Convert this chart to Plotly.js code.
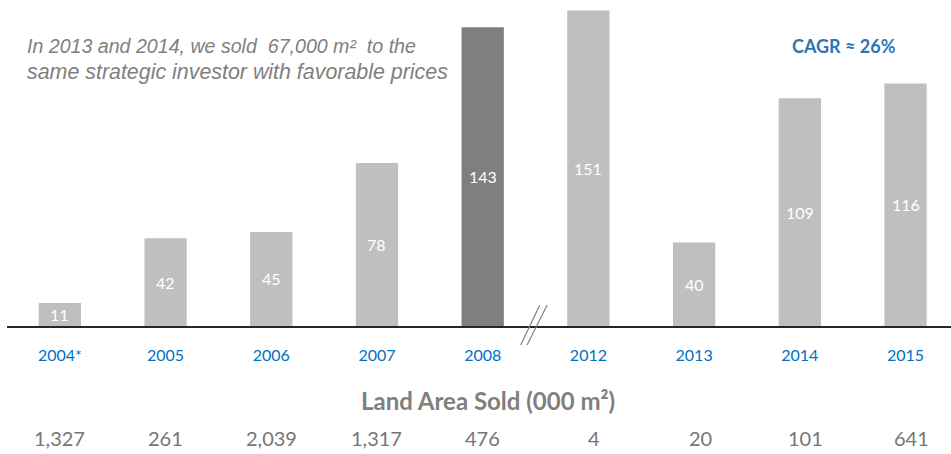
<!DOCTYPE html>
<html>
<head>
<meta charset="utf-8">
<script src="https://cdn.plot.ly/plotly-3.0.1.min.js"></script>
<style>html,body{margin:0;padding:0;background:#fff;}#chart{width:951px;height:454px;}</style>
</head>
<body>
<div id="chart"></div>
<script>
const categories = ["2004*", "2005", "2006", "2007", "2008", "2012", "2013", "2014", "2015"];
const landValues = [11, 42, 45, 78, 143, 151, 40, 109, 116];
const areaSold = ["1,327", "261", "2,039", "1,317", "476", "4", "20", "101", "641"];
const highlightCategory = "2008";
const noteLines = ["In 2013 and 2014, we sold  67,000 m\u00B2  to the", "same strategic investor with favorable prices"];
const cagrText = "CAGR \u2248 26%";
const tableTitle = "Land Area Sold (000 m\u00B2)";

const W = 951, H = 454;
const M = { l: 7, r: 0, t: 0, b: 128 };
const plotW = W - M.l - M.r, plotH = H - M.t - M.b;
const px = x => (x - M.l) / plotW;
const py = y => 1 - (y - M.t) / plotH;

const FONT = "Lato, 'Open Sans', sans-serif";
const barColors = categories.map(c => c === highlightCategory ? "#7F7F7F" : "#BFBFBF");

const trace = {
  type: "bar",
  x: categories,
  y: landValues,
  width: 0.4,
  marker: { color: barColors },
  hoverinfo: "skip"
};

const annotations = [];
categories.forEach((c, i) => {
  annotations.push({
    x: i, y: landValues[i] / 2, xref: "x", yref: "y", xanchor: "center", yanchor: "middle",
    text: String(landValues[i]), showarrow: false,
    font: { family: FONT, size: 16, color: "#FFFFFF" }
  });
  annotations.push({
    x: i, y: py(438), xref: "x", yref: "paper", xanchor: "center", yanchor: "middle",
    text: areaSold[i], showarrow: false, xshift: i >= 5 ? 6 : 0,
    font: { family: FONT, size: 20, color: "#767676" }
  });
});
annotations.push({
  x: px(488), y: py(400), xref: "paper", yref: "paper", xanchor: "center", yanchor: "middle",
  text: "<b>" + tableTitle + "</b>", showarrow: false,
  font: { family: FONT, size: 24, color: "#7F7F7F" }
});
noteLines.forEach((t, i) => {
  annotations.push({
    x: px(25), y: py(i === 0 ? 46 : 72), xref: "paper", yref: "paper", xanchor: "left", yanchor: "middle",
    text: "<i>" + t + "</i>", showarrow: false,
    font: { family: "'Liberation Sans', Arial, sans-serif", size: i === 0 ? 19.6 : 21.4, color: "#808080" }
  });
});
annotations.push({
  x: px(844), y: py(46), xref: "paper", yref: "paper", xanchor: "center", yanchor: "middle",
  text: "<b>" + cagrText + "</b>", showarrow: false,
  font: { family: FONT, size: 18, color: "#2E75B6" }
});

const layout = {
  width: W, height: H,
  margin: M,
  paper_bgcolor: "#FFFFFF", plot_bgcolor: "#FFFFFF",
  showlegend: false,
  xaxis: {
    type: "category", range: [-0.5, 8.43],
    showline: true, linecolor: "#262626", linewidth: 2,
    showgrid: false, zeroline: false, ticks: "",
    ticklabelstandoff: 14,
    tickfont: { family: FONT, size: 16, color: "#0070C0" },
    fixedrange: true
  },
  yaxis: { range: [0, 156], visible: false, fixedrange: true },
  annotations: annotations,
  shapes: [
    { type: "line", xref: "x", yref: "paper", x0: 4.36, x1: 4.54, y0: py(345), y1: py(305), line: { color: "#808080", width: 1.2 } },
    { type: "line", xref: "x", yref: "paper", x0: 4.42, x1: 4.61, y0: py(345), y1: py(305), line: { color: "#808080", width: 1.2 } }
  ]
};

Plotly.newPlot("chart", [trace], layout, { displayModeBar: false, staticPlot: true });
</script>
</body>
</html>
